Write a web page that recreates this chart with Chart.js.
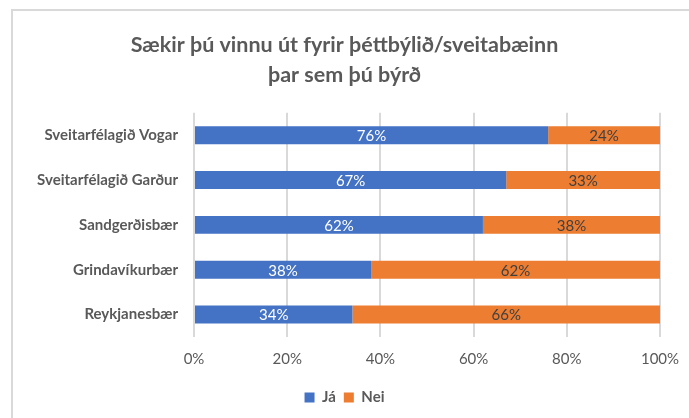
<!DOCTYPE html>
<html lang="is">
<head>
<meta charset="UTF-8">
<title>Sækir þú vinnu út fyrir þéttbýlið/sveitabæinn þar sem þú býrð</title>
<script src="https://cdn.jsdelivr.net/npm/chart.js"></script>
<style>
    body { margin: 0; background: #fff; }
    .frame {
        position: absolute;
        left: 11px;
        top: 9px;
        width: 760px;
        height: 480px;
        border-top: 2px solid #d9d9d9;
        border-left: 2px solid #d9d9d9;
    }
    .wrap { position: absolute; left: 0; top: 0; width: 689px; height: 418px; }
</style>
</head>
<body>
<div class="frame"></div>
<div class="wrap"><canvas id="chart" width="689" height="418"></canvas></div>
<script>
    // gögn
    const categories = ['Sveitarfélagið Vogar', 'Sveitarfélagið Garður', 'Sandgerðisbær', 'Grindavíkurbær', 'Reykjanesbær'];
    const jaValues = [76, 67, 62, 38, 34];
    const neiValues = [24, 33, 38, 62, 66];
    const xTicks = [0, 20, 40, 60, 80, 100];

    const FONT = 'Lato, "Open Sans", sans-serif';
    const GREY = '#595959';

    // prósentutölur inni í súlunum
    const barLabels = {
        id: 'barLabels',
        afterDatasetsDraw(chart) {
            const ctx = chart.ctx;
            ctx.save();
            ctx.font = '15px ' + FONT;
            ctx.textAlign = 'center';
            ctx.textBaseline = 'middle';
            chart.data.datasets.forEach((ds, i) => {
                const meta = chart.getDatasetMeta(i);
                meta.data.forEach((bar, j) => {
                    const cx = (bar.x + bar.base) / 2;
                    ctx.fillStyle = ds.labelColor;
                    ctx.fillText(ds.data[j] + '%', cx, bar.y + 1);
                });
            });
            ctx.restore();
        }
    };

    new Chart(document.getElementById('chart'), {
        type: 'bar',
        data: {
            labels: categories,
            datasets: [
                { label: 'Já', data: jaValues, backgroundColor: '#4472C4', labelColor: '#ffffff' },
                { label: 'Nei', data: neiValues, backgroundColor: '#ED7D31', labelColor: '#404040' }
            ]
        },
        options: {
            indexAxis: 'y',
            responsive: false,
            animation: false,
            barPercentage: 0.4,
            categoryPercentage: 1,
            layout: { padding: { left: 0, right: 0, top: 0, bottom: 3 } },
            scales: {
                x: {
                    stacked: true,
                    min: 0,
                    max: 100,
                    afterBuildTicks(scale) {
                        scale.ticks = xTicks.map(v => ({ value: v }));
                    },
                    afterFit(scale) {
                        scale.height = 45;
                        scale.paddingLeft = 0;
                        scale.paddingRight = 0;
                    },
                    grid: { color: '#d9d9d9', lineWidth: 2, drawTicks: false },
                    border: { display: false },
                    ticks: {
                        padding: 13,
                        color: GREY,
                        font: { family: FONT, size: 15 },
                        callback: v => v + '%'
                    }
                },
                y: {
                    stacked: true,
                    afterFit(scale) { scale.width = 194; },
                    grid: { display: false, drawTicks: false },
                    border: { display: false },
                    ticks: {
                        padding: 16,
                        color: GREY,
                        font: { family: FONT, size: 15, weight: 'bold' }
                    }
                },
                // tómur ás hægra megin, heldur titlinum í miðju
                yRight: {
                    type: 'category',
                    position: 'right',
                    afterFit(scale) { scale.width = 29; },
                    grid: { display: false, drawTicks: false },
                    border: { display: false },
                    ticks: { display: false }
                }
            },
            plugins: {
                title: {
                    display: true,
                    text: ['Sækir þú vinnu út fyrir þéttbýlið/sveitabæinn', 'þar sem þú býrð'],
                    color: GREY,
                    font: { family: FONT, size: 21.5, weight: 'bold', lineHeight: 1.39 },
                    padding: { top: 30, bottom: 23 }
                },
                legend: {
                    position: 'bottom',
                    labels: {
                        boxWidth: 10,
                        boxHeight: 10,
                        padding: 8,
                        color: GREY,
                        font: { family: FONT, size: 15, weight: 'bold' }
                    }
                },
                tooltip: { enabled: false }
            }
        },
        plugins: [barLabels]
    });
</script>
</body>
</html>
